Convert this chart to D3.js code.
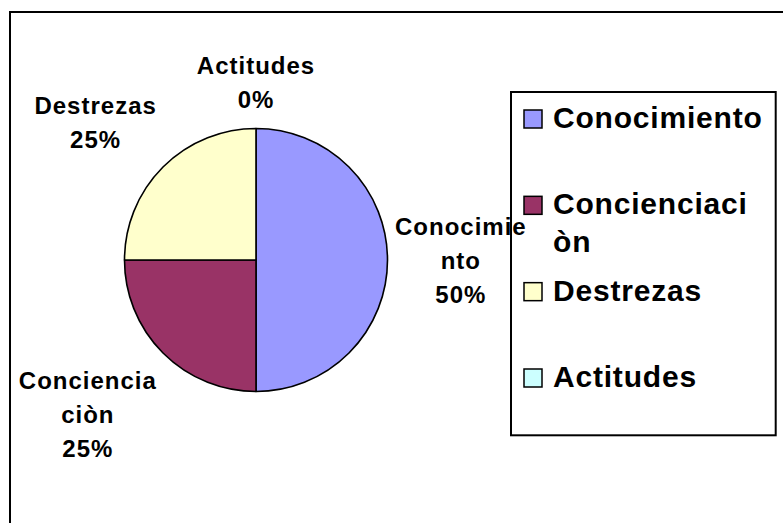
<!DOCTYPE html>
<html>
<head>
<meta charset="utf-8">
<script src="https://cdn.jsdelivr.net/npm/d3@7/dist/d3.min.js"></script>
<style>
  html, body { margin: 0; padding: 0; background: #fff; }
  text { font-family: "Liberation Sans", Arial, sans-serif; font-weight: bold; fill: #000; }
</style>
</head>
<body>
<div id="chart"></div>
<script>
// chart data
const categories = ['Conocimiento', 'Concienciaciòn', 'Destrezas', 'Actitudes'];
const values = [50, 25, 25, 0];
const colors = ['#9999FF', '#993366', '#FFFFCC', '#CCFFFF'];
// wrapped the way the original shows them
const labelLines = [['Conocimie', 'nto'], ['Conciencia', 'ciòn'], ['Destrezas'], ['Actitudes']];
const legendLines = [['Conocimiento'], ['Concienciaci', 'òn'], ['Destrezas'], ['Actitudes']];

const width = 783, height = 523;
const cx = 256, cy = 260, radius = 131.5;

const svg = d3.select('#chart').append('svg')
  .attr('width', width)
  .attr('height', height);

svg.append('rect').attr('width', width).attr('height', height).attr('fill', '#fff');

// outer chart frame (right / bottom run off the picture)
svg.append('rect')
  .attr('x', 10).attr('y', 12)
  .attr('width', 820).attr('height', 560)
  .attr('fill', 'none').attr('stroke', '#000').attr('stroke-width', 2);

const data = categories.map((c, i) => ({name: c, value: values[i], color: colors[i], lines: labelLines[i]}));
const total = d3.sum(values);
const pct = d3.format('.0%');

/* ------- legend (drawn first, the data labels sit on top of it) -------*/
const legend = svg.append('g').attr('class', 'legend');
legend.append('rect')
  .attr('x', 511).attr('y', 92)
  .attr('width', 264.7).attr('height', 343.3)
  .attr('fill', '#fff').attr('stroke', '#000').attr('stroke-width', 2);

const rowY = d3.scalePoint().domain(categories).range([128, 387]);

const items = legend.selectAll('g.item')
  .data(data)
  .enter()
  .append('g')
  .attr('class', 'item')
  .attr('transform', d => `translate(0,${rowY(d.name)})`);

items.append('rect')
  .attr('x', 524).attr('y', -18)
  .attr('width', 18).attr('height', 18)
  .attr('fill', d => d.color)
  .attr('stroke', '#000').attr('stroke-width', 1.5);

items.append('text')
  .style('font-size', '30px')
  .style('letter-spacing', '0.8px')
  .each(function(d, i) {
    const t = d3.select(this);
    legendLines[i].forEach((r, k) => {
      t.append('tspan').attr('x', 553).attr('y', k * 38).text(r);
    });
  });

/* ------- pie -------*/
const pie = d3.pie().value(d => d.value).sort(null);
const arcs = pie(data);
const arc = d3.arc().innerRadius(0).outerRadius(radius);

const mainG = svg.append('g').attr('transform', `translate(${cx},${cy})`);

mainG.append('g').attr('class', 'slices').selectAll('path')
  .data(arcs.filter(d => d.value > 0))
  .enter()
  .append('path')
  .attr('d', arc)
  .attr('fill', d => d.data.color)
  .attr('stroke', '#000')
  .attr('stroke-width', 1.6)
  .attr('stroke-linejoin', 'round');

/* ------- labels -------*/
const gap = 4.5, hpad = 3, vpad = 10.7, lineH = 34;
const midAngle = d => d.startAngle + (d.endAngle - d.startAngle) / 2;
const sgn = v => (Math.abs(v) < 1e-6 ? 0 : Math.sign(v));

const labels = mainG.append('g').attr('class', 'labels').selectAll('g')
  .data(arcs)
  .enter()
  .append('g');

labels.each(function(d) {
  const g = d3.select(this);
  const rows = d.data.lines.concat([pct(d.value / total)]);
  const t = g.append('text')
    .attr('text-anchor', 'middle')
    .style('font-size', '24px')
    .style('letter-spacing', '1px');
  rows.forEach((r, i) => {
    t.append('tspan').attr('x', 0).attr('y', i * lineH).text(r);
  });
  const bb = t.node().getBBox();
  const a = midAngle(d);
  const ux = Math.sin(a), uy = -Math.cos(a);
  const ax = (radius + gap) * ux, ay = (radius + gap) * uy;
  const bx = ax + sgn(ux) * (bb.width / 2 + hpad);
  const by = ay + sgn(uy) * (bb.height / 2 + vpad);
  // move the text block so its centre sits on (bx, by)
  const ox = bx - (bb.x + bb.width / 2);
  const oy = by - (bb.y + bb.height / 2);
  g.attr('transform', `translate(${ox},${oy})`);
});
</script>
</body>
</html>
